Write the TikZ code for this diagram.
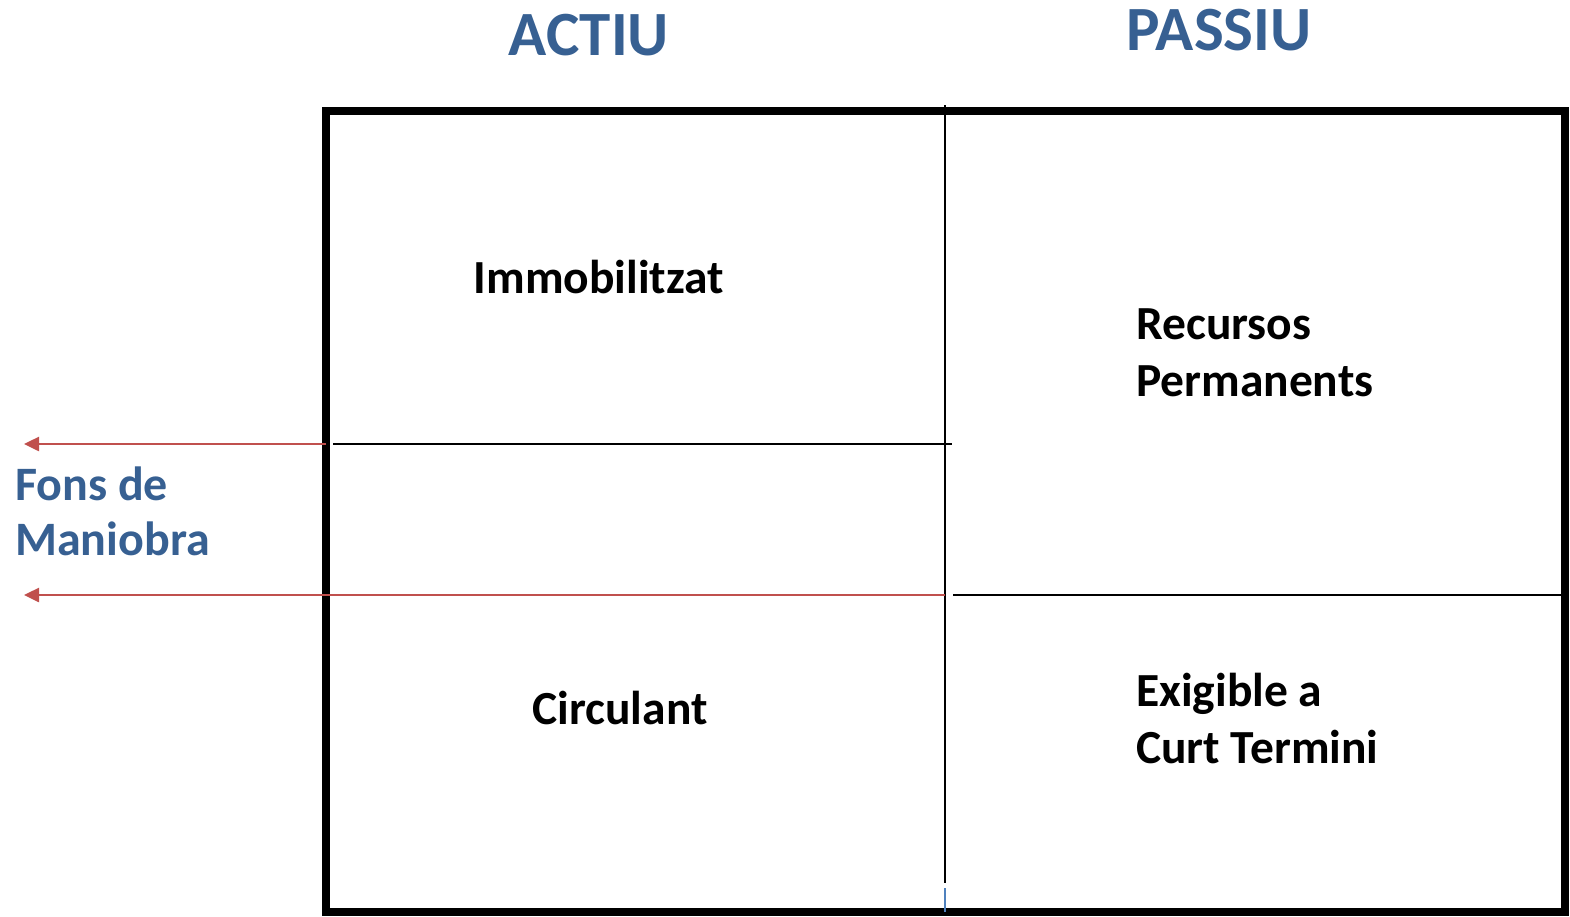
\documentclass[tikz,border=0pt]{standalone}
\usepackage{fontspec}
\setmainfont{Carlito}
\usetikzlibrary{arrows.meta}
\definecolor{headblue}{HTML}{376092}
\definecolor{arrowred}{HTML}{C0504D}
\definecolor{tickblue}{HTML}{4F81BD}
\begin{document}
\begin{tikzpicture}[x=1pt,y=-1pt,
  heading/.style={font=\fontsize{63}{68}\selectfont\bfseries, text=headblue, inner sep=0pt, anchor=base},
  item/.style={font=\fontsize{47.5}{57}\selectfont\bfseries, inner sep=0pt, align=left},
  sidelabel/.style={font=\fontsize{48}{55}\selectfont\bfseries, text=headblue, inner sep=0pt, align=left, anchor=base west},
  frame/.style={line width=8pt},
  divider/.style={line width=2pt},
  flow/.style={draw=arrowred, line width=2.5pt, -{Triangle[length=15pt,width=14pt]}}]
\useasboundingbox (0,0) rectangle (1570,916);

% headings
\node[heading] (actiu) at (589,55) {ACTIU};
\node[heading] (passiu) at (1219,50) {PASSIU};

% balance frame
\coordinate (tl) at (326,111);
\coordinate (br) at (1565,912);
\draw[frame] (tl) rectangle (br);

% central divider and its small blue end mark
\coordinate (vtop) at (945,105);
\coordinate (vbot) at (945,883);
\coordinate (marktop) at (945,888);
\coordinate (markbot) at (945,912);
\draw[divider] (vtop) -- (vbot);
\draw[tickblue, line width=1.5pt] (marktop) -- (markbot);

% horizontal splits
\coordinate (aleft) at (333,444);
\coordinate (aright) at (952,444);
\draw[line width=2pt] (aleft) -- (aright);
\coordinate (pleft) at (953,595);
\coordinate (pright) at (1561,595);
\draw[line width=2pt] (pleft) -- (pright);

% working capital arrows
\coordinate (upstart) at (326,444);
\coordinate (upend) at (24,444);
\coordinate (lowstart) at (945,595);
\coordinate (lowend) at (24,595);
\draw[flow] (upstart) -- (upend);
\draw[flow] (lowstart) -- (lowend);

% cell texts (multi-line nodes sit on their last baseline)
\node[item, anchor=base] (immob) at (599,293) {Immobilitzat};
\node[item, anchor=base] (circ) at (620,724) {Circulant};
\node[item, anchor=base west] (recursos) at (1136,396) {Recursos\\Permanents};
\node[item, anchor=base west] (exig) at (1136,763) {Exigible a\\Curt Termini};

% side label
\node[sidelabel] (fons) at (15,555) {Fons de\\Maniobra};
\end{tikzpicture}
\end{document}
